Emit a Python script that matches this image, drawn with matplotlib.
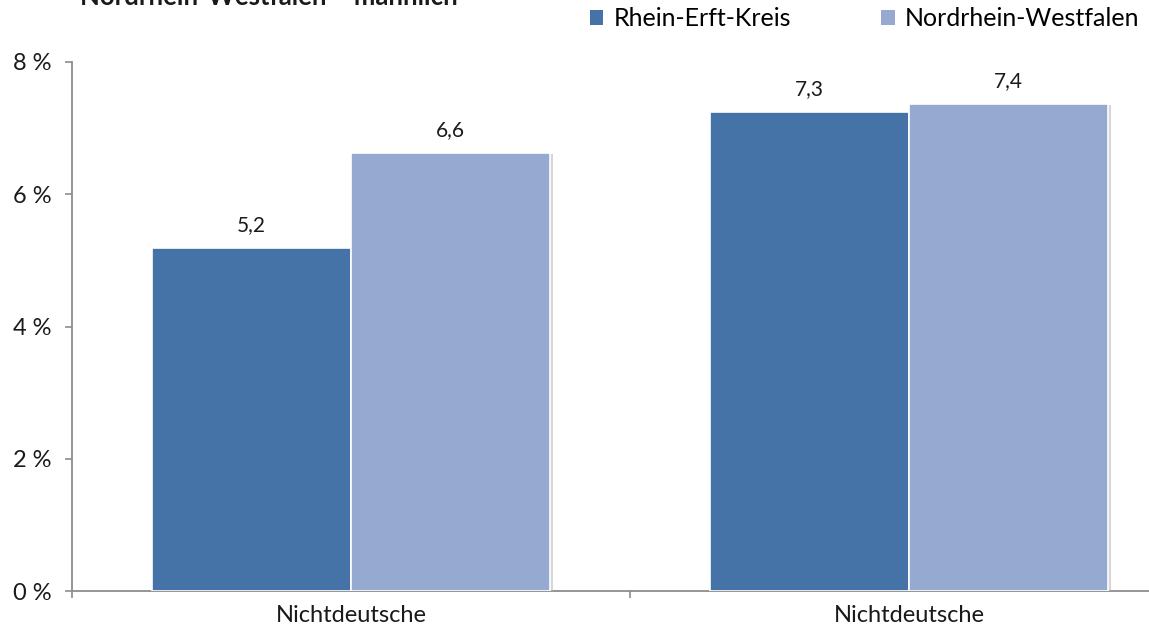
import matplotlib
matplotlib.use("Agg")
import matplotlib.pyplot as plt
import matplotlib.patheffects as pe
from matplotlib.patches import Patch
import numpy as np

categories = ["Nichtdeutsche", "Nichtdeutsche"]
series_names = ["Rhein-Erft-Kreis", "Nordrhein-Westfalen"]
rhein_erft = [5.19, 7.25]
nrw = [6.63, 7.37]
rhein_erft_labels = ["5,2", "7,3"]
nrw_labels = ["6,6", "7,4"]
y_ticks = [0, 2, 4, 6, 8]
title = "Nordrhein-Westfalen – männlich"

c_dark = "#4573A7"
c_light = "#95A9D1"
axis_grey = "#8C8C8C"
FONT = ["Lato", "DejaVu Sans"]
plt.rcParams["font.family"] = FONT

fig = plt.figure(figsize=(11.49, 6.36), dpi=100)
W, H = 1149, 636
ax = fig.add_axes([72 / W, (H - 591) / H, (1188 - 72) / W, (591 - 62) / H])

x = np.arange(len(categories))
bw = 0.357
off = 0.1785
shadow = [pe.SimplePatchShadow(offset=(2, -1), shadow_rgbFace="#BBBBBB", alpha=0.6), pe.Normal()]
b1 = ax.bar(x - off, rhein_erft, bw, color=c_dark, edgecolor="white", linewidth=1.2, zorder=3)
b2 = ax.bar(x + off, nrw, bw, color=c_light, edgecolor="white", linewidth=1.2, zorder=3)
for bars in (b1, b2):
    for r in bars:
        r.set_path_effects(shadow)

for bars, labs in ((b1, rhein_erft_labels), (b2, nrw_labels)):
    for r, lab in zip(bars, labs):
        ax.annotate(lab, (r.get_x() + r.get_width() / 2, r.get_height()),
                    xytext=(0, 9), textcoords="offset points", ha="center", va="bottom",
                    fontsize=15, color="#1a1a1a")

ax.set_xlim(-0.5, len(categories) - 0.5)
ax.set_ylim(0, 8)
ax.set_yticks(y_ticks)
ax.set_yticklabels([f"{v} %" for v in y_ticks])
ax.set_xticks(np.arange(-0.5, len(categories), 1.0))
ax.set_xticklabels([])
ax.set_xticks(x, minor=True)
ax.set_xticklabels(categories, minor=True)
ax.tick_params(axis="x", which="minor", length=0, pad=10, labelsize=17, labelcolor="#1a1a1a")
ax.tick_params(axis="x", which="major", length=5, color=axis_grey, width=1.2, direction="out")
ax.tick_params(axis="y", length=5, color=axis_grey, width=1.2, direction="out", pad=10,
               labelsize=17, labelcolor="#1a1a1a")
for s in ("top", "right"):
    ax.spines[s].set_visible(False)
for s in ("left", "bottom"):
    ax.spines[s].set_color(axis_grey)
    ax.spines[s].set_linewidth(1.3)

fig.text(80 / W, 1 - 5 / H, title, ha="left", va="baseline", fontsize=18.5,
         fontweight="bold", color="#1a1a1a")

handles = [Patch(facecolor=c_dark, edgecolor="none"), Patch(facecolor=c_light, edgecolor="none")]
fig.legend(handles, series_names, loc="upper right", bbox_to_anchor=(1149 / W, 1.0 + 3 / H),
           ncol=2, frameon=False, fontsize=18, handlelength=0.55, handleheight=0.55,
           handletextpad=0.4, columnspacing=3.6, borderaxespad=0.0)

fig.savefig("out.png", dpi=100)
